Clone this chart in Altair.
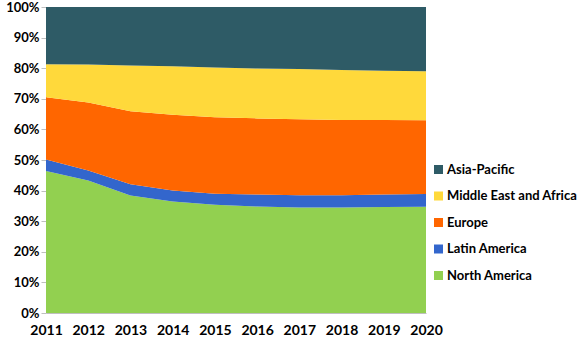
import altair as alt
import pandas as pd

years = [2011, 2012, 2013, 2014, 2015, 2016, 2017, 2018, 2019, 2020]
regions = ["Asia-Pacific", "Middle East and Africa", "Europe", "Latin America", "North America"]
colors = ["#2E5B66", "#FFD93B", "#FF6600", "#3366CC", "#92D050"]

north_america = [46.4, 43.3, 38.4, 36.4, 35.4, 34.8, 34.5, 34.5, 34.6, 34.7]
latin_america = [3.8, 3.3, 3.7, 3.6, 3.6, 3.9, 4.0, 4.0, 4.1, 4.2]
europe = [20.3, 22.2, 23.8, 24.8, 25.0, 24.9, 24.8, 24.6, 24.4, 24.1]
middle_east_africa = [10.8, 12.4, 15.0, 15.8, 16.2, 16.3, 16.4, 16.3, 16.1, 16.0]
asia_pacific = [18.7, 18.8, 19.1, 19.4, 19.8, 20.1, 20.3, 20.6, 20.8, 21.0]

series = {
    "North America": north_america,
    "Latin America": latin_america,
    "Europe": europe,
    "Middle East and Africa": middle_east_africa,
    "Asia-Pacific": asia_pacific,
}
stack_order = ["North America", "Latin America", "Europe", "Middle East and Africa", "Asia-Pacific"]

rows = []
for name, vals in series.items():
    for y, v in zip(years, vals):
        rows.append({"year": y, "region": name, "share": v, "idx": stack_order.index(name)})
df = pd.DataFrame(rows)

FONT = "Lato"

chart = alt.Chart(df).mark_area(interpolate="linear").encode(
    x=alt.X("year:Q", scale=alt.Scale(domain=[2011, 2020], nice=False),
            axis=alt.Axis(values=years, format="d", title=None, ticks=False,
                          labelFont=FONT, labelFontWeight="bold", labelFontSize=14,
                          labelColor="#000000", labelPadding=10, domainColor="#BFBFBF",
                          grid=False, labelFlush=False)),
    y=alt.Y("share:Q", stack="normalize", scale=alt.Scale(domain=[0, 1], nice=False),
            axis=alt.Axis(format=".0%", values=[0, 0.1, 0.2, 0.3, 0.4, 0.5, 0.6, 0.7, 0.8, 0.9, 1.0],
                          title=None, labelFont=FONT, labelFontWeight="bold", labelFontSize=13,
                          labelColor="#000000", tickSize=5, tickColor="#BFBFBF",
                          domainColor="#BFBFBF", labelPadding=2, grid=False)),
    color=alt.Color("region:N", scale=alt.Scale(domain=regions, range=colors),
                    legend=alt.Legend(title=None, orient="none", legendX=386, legendY=156,
                                      symbolType="square", symbolSize=81, symbolStrokeWidth=0,
                                      labelFont=FONT, labelFontWeight="bold", labelFontSize=13,
                                      labelColor="#000000", rowPadding=12.5, labelOffset=2,
                                      labelLimit=200)),
    order=alt.Order("idx:Q", sort="ascending"),
).properties(
    width=380, height=306,
    padding={"left": 46, "top": 7, "right": 154, "bottom": 24},
    autosize="none",
).configure_view(stroke=None)

chart.save("out.html", embed_options={"renderer": "svg", "actions": False})
